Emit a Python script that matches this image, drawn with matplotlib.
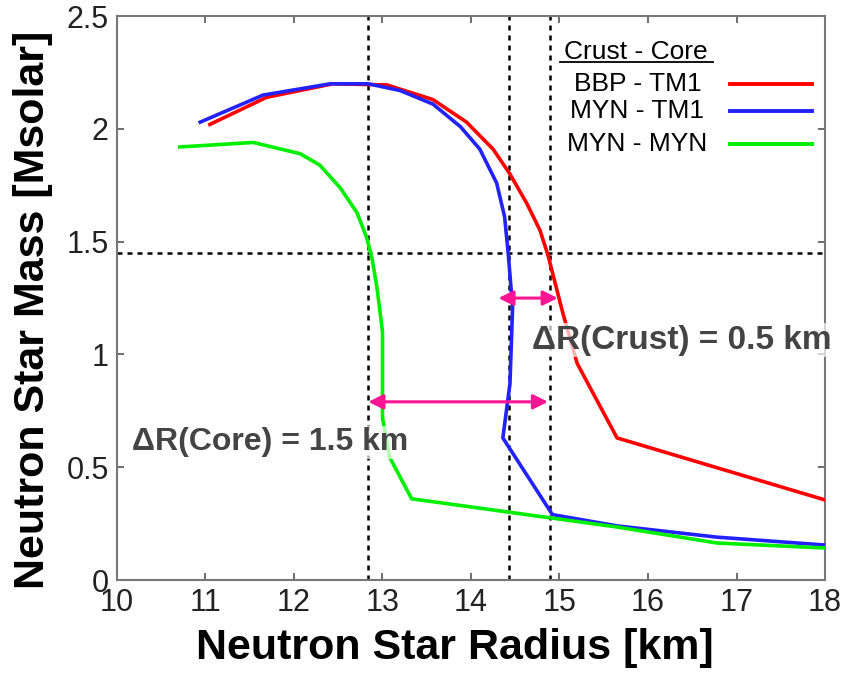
import numpy as np
import matplotlib.pyplot as plt
from matplotlib.ticker import FormatStrFormatter

plt.rcParams['font.family'] = ['Liberation Sans', 'DejaVu Sans']

# --- data: radius [km], mass [Msolar] ---
bbp_tm1_r = [11.05, 11.69, 12.44, 13.05, 13.57, 13.95, 14.25, 14.44, 14.63, 14.78, 14.87,
             15.04, 15.20, 15.65, 18.0]
bbp_tm1_m = [2.02, 2.14, 2.20, 2.195, 2.13, 2.03, 1.91, 1.80, 1.67, 1.55, 1.44,
             1.18, 0.96, 0.63, 0.355]

myn_tm1_r = [10.94, 11.65, 12.41, 12.84, 13.20, 13.57, 13.88, 14.10, 14.29, 14.38, 14.42,
             14.47, 14.44, 14.36, 14.92, 15.65, 16.78, 18.0]
myn_tm1_m = [2.03, 2.15, 2.20, 2.20, 2.17, 2.11, 2.01, 1.91, 1.76, 1.61, 1.45,
             1.21, 0.87, 0.63, 0.29, 0.24, 0.19, 0.155]

myn_myn_r = [10.71, 11.54, 12.07, 12.29, 12.52, 12.71, 12.82, 12.88, 12.94, 13.0, 13.0,
             13.0, 13.08, 13.33, 15.65, 16.78, 18.0]
myn_myn_m = [1.92, 1.94, 1.89, 1.84, 1.74, 1.63, 1.52, 1.43, 1.29, 1.10, 0.92,
             0.72, 0.545, 0.36, 0.235, 0.164, 0.142]

labels = ['BBP - TM1', 'MYN - TM1', 'MYN - MYN']
colors = ['#ff0000', '#2222ff', '#00ee00']
legend_title = 'Crust - Core'

ref_mass = 1.45
ref_radii = [12.84, 14.43, 14.89]

crust_arrow = (14.31, 14.98, 1.25)
core_arrow = (12.84, 14.87, 0.79)
crust_label = 'ΔR(Crust) = 0.5 km'
core_label = 'ΔR(Core) = 1.5 km'

fig = plt.figure(figsize=(8.44, 6.81), dpi=100)
ax = fig.add_axes([0.1386, 0.1483, 0.8389, 0.828])

curves = [(bbp_tm1_r, bbp_tm1_m), (myn_tm1_r, myn_tm1_m), (myn_myn_r, myn_myn_m)]
for (r, m), c in zip(curves, colors):
    ax.plot(r, m, color=c, lw=2.6, solid_joinstyle='round', zorder=3)

# reference lines
ax.axhline(ref_mass, color='black', lw=1.8, ls=(0, (2, 2)), zorder=2)
for rr in ref_radii:
    ax.axvline(rr, color='black', lw=1.8, ls=(0, (2, 2)), zorder=2)

# delta-R arrows
for x0, x1, y in [crust_arrow, core_arrow]:
    ax.annotate('', xy=(x0, y), xytext=(x1, y),
                arrowprops=dict(arrowstyle='<|-|>', color='#ff1493', lw=2.2,
                                mutation_scale=22, shrinkA=0, shrinkB=0), zorder=4)

ax.text(16.38, 1.064, crust_label, fontsize=24, fontweight='bold', color='#444444',
        ha='center', va='center', zorder=5,
        bbox=dict(facecolor='white', edgecolor='none', alpha=0.7, pad=1))
ax.text(11.73, 0.61, core_label, fontsize=23, fontweight='bold', color='#444444',
        ha='center', va='center', zorder=5,
        bbox=dict(facecolor='white', edgecolor='none', alpha=0.7, pad=1))

# hand-made legend
ax.text(15.86, 2.34, legend_title, fontsize=19, ha='center', va='center', zorder=6)
ax.plot([15.01, 16.73], [2.297, 2.297], color='black', lw=1.3, zorder=6)
for lab, c, y in zip(labels, colors, [2.20, 2.08, 1.935]):
    ax.text(15.88, y, lab, fontsize=19, ha='center', va='center', zorder=6)
    ax.plot([16.93, 17.85], [y, y], color=c, lw=2.8, zorder=6)

ax.set_xlim(10, 18)
ax.set_ylim(0, 2.5)
ax.set_xticks(np.arange(10, 19, 1))
ax.set_yticks(np.arange(0, 2.51, 0.5))
ax.yaxis.set_major_formatter(FormatStrFormatter('%g'))
ax.tick_params(direction='in', length=5, width=1.2, labelsize=22, colors='#555555',
               labelcolor='#222222', top=True, right=True, pad=6)
for s in ax.spines.values():
    s.set_color('#777777')
    s.set_linewidth(1.5)

ax.set_xlabel('Neutron Star Radius [km]', fontsize=31, fontweight='bold')
ax.set_ylabel('Neutron Star Mass [Msolar]', fontsize=31, fontweight='bold')
ax.xaxis.set_label_coords(0.477, -0.085)
ax.yaxis.set_label_coords(-0.09, 0.479)

fig.savefig('out.png', dpi=100)
